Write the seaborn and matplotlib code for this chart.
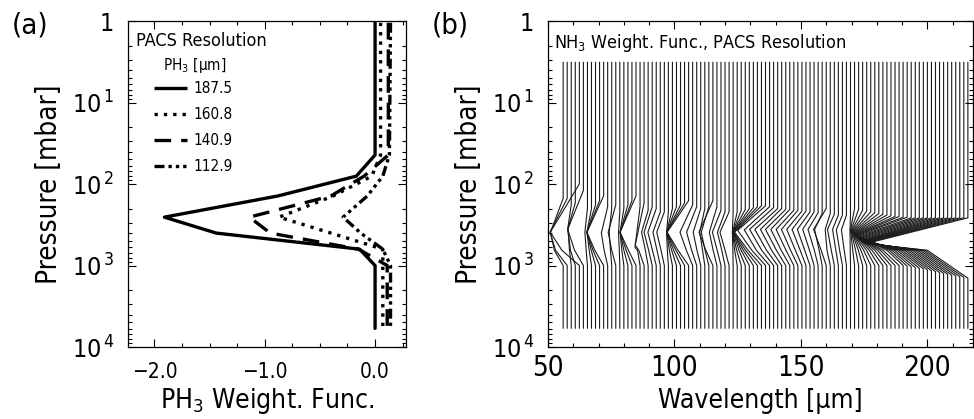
import numpy as np
import pandas as pd
import seaborn as sns
from matplotlib import pyplot as plt
from matplotlib import ticker as plticker
from matplotlib import font_manager as fm

# ---- panel (a): PH3 weighting functions ----
ph3_pressure = [1.05, 44, 80, 140, 255, 400, 630, 1000, 5900]
ph3_names = ['187.5', '160.8', '140.9', '112.9']
ph3_1875 = [0.00, 0.00, -0.17, -0.88, -1.91, -1.44, -0.14, 0.00, 0.00]
ph3_1608 = [0.05, 0.05, -0.03, -0.38, -0.87, -0.40, 0.07, 0.07, 0.07]
ph3_1409 = [0.12, 0.12, -0.10, -0.40, -1.14, -0.95, -0.15, 0.11, 0.11]
ph3_1129 = [0.14, 0.13, 0.07, -0.07, -0.29, -0.13, 0.07, 0.14, 0.14]

# ---- panel (b): NH3 weighting functions, each drawn at its wavelength ----
nh3_top = 3.2      # mbar, top of every curve
nh3_bottom = 5900  # mbar, bottom of every curve
nh3_waist_p = 650  # mbar
nh3_wave = [56.0, 57.6, 59.2, 60.8, 62.4, 64.0, 65.6, 67.2, 68.8, 70.4,
            72.0, 73.6, 75.2, 76.8, 78.4, 80.0, 81.6, 83.2, 84.8, 86.4,
            88.0, 89.6, 91.2, 92.8, 94.4, 96.0, 97.6, 99.2, 100.8, 102.4,
            104.0, 105.6, 107.2, 108.8, 110.4, 112.0, 113.6, 115.2, 116.8,
            118.4, 120.0, 121.6, 123.2, 124.8, 126.4, 128.0, 129.6, 131.2,
            132.8, 134.4, 136.0, 137.6, 139.2, 140.8, 142.4, 144.0, 145.6,
            147.2, 148.8, 150.4, 152.0, 153.6, 155.2, 156.8, 158.4, 160.0,
            161.6, 163.2, 164.8, 166.4, 168.0, 169.6,
            171.2, 172.8, 174.4, 176.0, 177.6, 179.2, 180.8, 182.4, 184.0,
            185.6, 187.2, 188.8, 190.4, 192.0, 193.6, 195.2, 196.8, 198.4,
            200.0, 201.6, 203.2, 204.8, 206.4, 208.0, 209.6, 211.2, 212.8,
            214.4, 216.0]
# pressure where each curve leaves the vertical
nh3_bend_p = [150, 150, 180, 170, 100, 120, 200, 200, 180, 160,
              140, 190, 200, 180, 220, 200, 180, 160, 140, 190,
              170, 210, 190, 200, 220, 220, 220, 200, 190, 180,
              170, 160, 180, 190, 200, 200, 190, 160, 190, 210,
              220, 220, 230, 220, 210, 205, 200, 195, 190, 185,
              185, 190, 195, 200, 200, 205, 205, 210, 210, 215,
              215, 220, 220, 225, 230, 200, 230, 235, 240, 240, 240, 240,
              200, 205, 210, 215, 220, 225, 230, 235, 240, 245,
              250, 250, 255, 255, 260, 260, 260, 260, 260, 260,
              260, 260, 260, 260, 260, 260, 260, 260, 260]
# wavelength and pressure of each curve's peak
nh3_peak_x = [51.0, 50.8, 57.9, 57.8, 50.9, 57.8, 64.6, 65.4, 65.4, 65.4,
              65.4, 71.1, 74.2, 73.8, 77.9, 78.5, 78.5, 78.5, 78.5, 84.4,
              84.5, 87.0, 88.0, 89.5, 91.5, 93.0, 96.9, 96.9, 96.9, 97.0,
              97.0, 97.1, 102.2, 104.8, 107.4, 110.0, 110.6, 109.7, 113.8,
              115.0, 117.0, 118.0, 122.9, 123.0, 123.0, 123.1, 123.2, 123.3,
              123.5, 123.8, 125.0, 127.6, 129.7, 131.8, 134.0, 136.0, 138.1,
              140.2, 142.3, 144.4, 146.5, 148.6, 150.7, 152.8, 155.4, 155.0,
              159.6, 160.5, 162.5, 164.0, 166.0, 169.4,
              169.6, 169.8, 170.0, 170.2, 170.4, 170.6, 170.8, 171.0, 171.2,
              171.4, 171.6, 171.8, 172.0, 172.3, 172.5, 172.8, 173.0, 173.2,
              173.5, 173.7, 174.0, 174.2, 174.4, 174.6, 174.8, 175.0, 175.2,
              175.4, 175.6]
nh3_peak_p = [390, 390, 340, 360, 390, 360, 390, 390, 390, 390,
              390, 400, 390, 390, 390, 390, 390, 390, 390, 600,
              560, 390, 390, 390, 390, 390, 390, 390, 390, 390,
              390, 390, 390, 390, 390, 390, 390, 390, 390, 390,
              390, 390, 390, 390, 390, 390, 390, 390, 390, 390,
              370, 365, 360, 360, 360, 360, 360, 360, 360, 360,
              360, 360, 360, 360, 360, 360, 360, 360, 360, 365, 365, 365,
              365, 370, 375, 380, 385, 390, 395, 400, 405, 410,
              415, 420, 425, 430, 440, 450, 460, 470, 480, 490,
              500, 505, 510, 515, 520, 525, 530, 535, 540]
# wavelength of each curve at 650 mbar (the deep curves pinch here)
nh3_waist_x = [52.5, 53.0, 58.5, 58.9, 55.5, 60.5, 65.1, 66.3, 67.1, 67.8,
               68.5, 72.2, 74.7, 75.2, 78.2, 79.2, 80.0, 80.9, 81.8, 85.4,
               85.9, 88.5, 89.8, 91.3, 93.1, 94.7, 97.2, 98.0, 98.9, 99.7,
               100.6, 101.4, 104.7, 106.8, 108.9, 111.1, 112.1, 112.4, 115.3,
               116.9, 118.7, 120.0, 123.1, 123.8, 124.6, 125.5, 126.4, 127.2,
               128.1, 129.1, 130.6, 132.4, 134.5, 136.4, 138.4, 140.3, 142.2,
               144.1, 145.9, 147.8, 149.7, 151.5, 153.4, 155.3, 157.2, 158.0,
               160.3, 162.0, 163.8, 165.3, 167.1, 169.5,
               170.5, 171.6, 172.7, 173.7, 174.8, 175.9, 177.0, 178.1, 179.2,
               180.3, 181.4, 182.5, 184.0, 185.0, 186.0, 187.0, 188.0, 189.0,
               190.0, 191.0, 192.0, 193.0, 194.0, 195.0, 196.0, 197.0, 198.0,
               199.0, 200.0]
# pressure where each curve is back on the vertical
nh3_return_p = [1000] * 84 + [1000, 1020, 1040, 1060, 1080, 1100, 1130,
                              1160, 1190, 1220, 1250, 1280, 1310, 1340,
                              1370, 1400, 1430]

sns.set_style('ticks')
names = {f.name for f in fm.fontManager.ttflist}
if 'Liberation Sans Narrow' in names:
    plt.rcParams['font.family'] = ['Liberation Sans Narrow', 'DejaVu Sans']
else:
    plt.rcParams['font.family'] = ['DejaVu Sans']
    plt.rcParams['font.stretch'] = 'condensed'
plt.rcParams.update({'text.color': 'black', 'axes.labelcolor': 'black',
                     'xtick.color': 'black', 'ytick.color': 'black'})


def sup(v, pos):
    """log axis labels: 1, 10^1, 10^2 ..."""
    e = int(round(np.log10(v)))
    if e == 0:
        return '1'
    return '$\\mathregular{10^{\\,%d}}$' % e


def style_pressure(ax):
    ax.set_yscale('log')
    ax.set_ylim(1e4, 1)
    ax.yaxis.set_major_locator(plticker.LogLocator(base=10, numticks=10))
    ax.yaxis.set_minor_locator(plticker.LogLocator(base=10, subs=np.arange(2, 10), numticks=10))
    ax.yaxis.set_major_formatter(plt.FuncFormatter(sup))
    ax.yaxis.set_minor_formatter(plticker.NullFormatter())
    ax.tick_params(which='both', direction='in', top=True, right=True,
                   width=0.8, colors='black')
    ax.tick_params(which='major', length=6)
    ax.tick_params(which='minor', length=3)
    ax.tick_params(axis='y', labelsize=18, pad=10)
    for s in ax.spines.values():
        s.set_linewidth(0.9)
        s.set_color('black')
    ax.set_ylabel('Pressure [mbar]', fontsize=20, labelpad=6)


fig = plt.figure(figsize=(9.74, 4.19), dpi=100)
ax1 = fig.add_axes([0.1314, 0.1718, 0.2854, 0.778])
ax2 = fig.add_axes([0.5626, 0.1718, 0.4363, 0.778])

# panel (a)
df_a = pd.DataFrame({
    'weight': ph3_1875 + ph3_1608 + ph3_1409 + ph3_1129,
    'pressure': ph3_pressure * 4,
    'line': sum([[n] * len(ph3_pressure) for n in ph3_names], []),
})
dash_map = {'187.5': '', '160.8': (1, 1.8), '140.9': (5, 3),
            '112.9': (3, 1.2, 1, 1.2, 1, 1.2, 1, 1.2)}
sns.lineplot(data=df_a, x='weight', y='pressure', hue='line', style='line',
             units='line', estimator=None, orient='y', sort=True,
             palette=['black'] * 4, dashes=dash_map, linewidth=2.4,
             legend=False, ax=ax1)
style_pressure(ax1)
ax1.set_xlim(-2.24, 0.28)
ax1.xaxis.set_major_locator(plticker.MultipleLocator(1.0))
ax1.xaxis.set_minor_locator(plticker.MultipleLocator(0.25))
ax1.xaxis.set_major_formatter(plticker.FuncFormatter(
    lambda v, p: f'{v:.1f}'.replace('-', '\u2212')))
ax1.tick_params(axis='x', labelsize=15, pad=11)
ax1.set_xlabel('PH$\\mathregular{_3}$ Weight. Func.', fontsize=19, labelpad=3)

ax1.text(0.03, 0.965, 'PACS Resolution', transform=ax1.transAxes,
         fontsize=13, va='top', ha='left')
ax1.text(0.126, 0.865, 'PH$\\mathregular{_3}$ [\u03bcm]', transform=ax1.transAxes,
         fontsize=11, va='center', ha='left')
handles = [plt.Line2D([], [], color='black', lw=2.4, solid_capstyle='butt',
                      dash_capstyle='butt', dashes=dash_map[n] or (None, None))
           for n in ph3_names]
ax1.legend(handles, ph3_names, loc='upper left', bbox_to_anchor=(0.094, 0.816),
           frameon=False, fontsize=11, handlelength=2.15, handletextpad=0.4,
           labelspacing=0.72, borderpad=0, borderaxespad=0)

# panel (b): one polyline per wavelength
rows = []
for i, w in enumerate(nh3_wave):
    pts = [(w, nh3_top), (w, nh3_bend_p[i]), (nh3_peak_x[i], nh3_peak_p[i]),
           (nh3_waist_x[i], nh3_waist_p), (w, nh3_return_p[i]),
           (w, nh3_bottom)]
    rows += [(i, x, p) for x, p in pts]
df_b = pd.DataFrame(rows, columns=['line', 'wave', 'pressure'])
sns.lineplot(data=df_b, x='wave', y='pressure', units='line', estimator=None,
             orient='y', sort=True, color='#1a1a1a', linewidth=0.8,
             legend=False, ax=ax2)
style_pressure(ax2)
ax2.set_xlim(50, 218)
ax2.xaxis.set_major_locator(plticker.MultipleLocator(50))
ax2.xaxis.set_minor_locator(plticker.MultipleLocator(10))
ax2.tick_params(axis='x', labelsize=20, pad=5)
ax2.set_xlabel('Wavelength [\u03bcm]', fontsize=19, labelpad=4)
ax2.text(0.015, 0.965, 'NH$\\mathregular{_3}$ Weight. Func., PACS Resolution',
         transform=ax2.transAxes, fontsize=13, va='top', ha='left')

fig.text(0.012, 0.94, '(a)', fontsize=21, va='center')
fig.text(0.443, 0.94, '(b)', fontsize=21, va='center')

fig.savefig('out.png', dpi=100)
